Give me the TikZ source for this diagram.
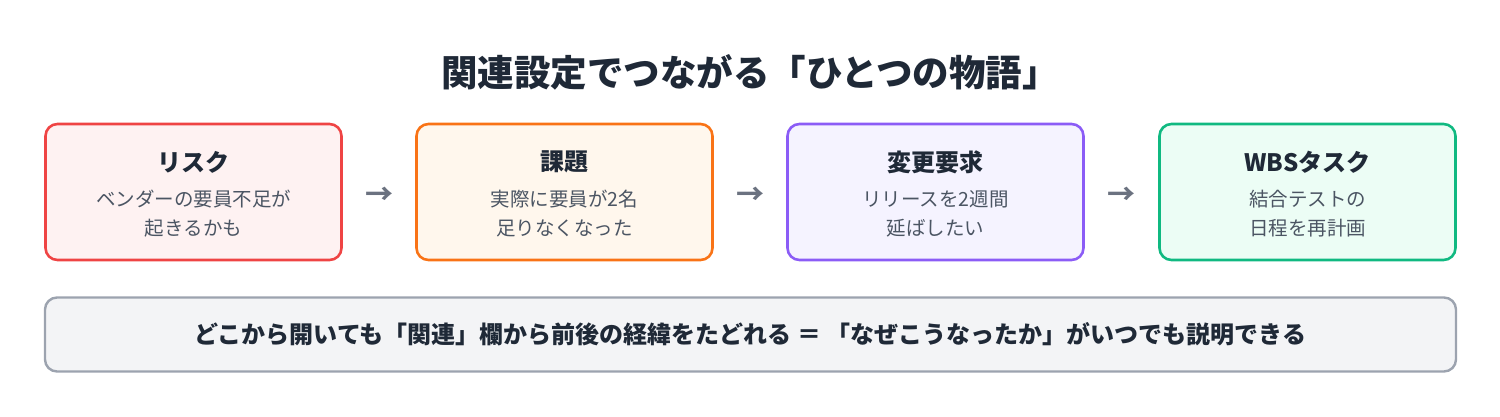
\documentclass[tikz,border=0pt]{standalone}
\usepackage{fontspec}
\setmainfont{Noto Sans CJK JP}
\usetikzlibrary{positioning,calc}
\definecolor{ttl}{HTML}{1F2937}
\definecolor{sub}{HTML}{4B5563}
\definecolor{arr}{HTML}{6B7280}
\definecolor{rB}{HTML}{EF4444}\definecolor{rF}{HTML}{FEF2F2}
\definecolor{oB}{HTML}{F97316}\definecolor{oF}{HTML}{FFF7ED}
\definecolor{pB}{HTML}{8B5CF6}\definecolor{pF}{HTML}{F5F3FF}
\definecolor{gB}{HTML}{10B981}\definecolor{gF}{HTML}{ECFDF5}
\definecolor{nB}{HTML}{9CA3AF}\definecolor{nF}{HTML}{F3F4F6}
\begin{document}
\begin{tikzpicture}[x=1pt,y=-1pt,
  card/.style={draw, line width=2.6pt, rounded corners=12pt, minimum width=296pt, minimum height=136pt, inner sep=0pt},
  cardtitle/.style={font=\fontsize{24}{28}\selectfont\bfseries, text=ttl, anchor=center},
  cardsub/.style={font=\fontsize{19.5}{29}\selectfont, text=sub, align=center, anchor=center},
  flowarrow/.style={font=\fontsize{28}{30}\selectfont\bfseries, text=arr, anchor=center}]
\useasboundingbox (0,0) rectangle (1500,416);
\node[font=\fontsize{36.5}{40}\selectfont\bfseries, text=ttl] (title) at (750,72) {関連設定でつながる「ひとつの物語」};
\node[card, draw=rB, fill=rF] (c1) at (193.5,192) {};
\node[card, draw=oB, fill=oF] (c2) at (564.5,192) {};
\node[card, draw=pB, fill=pF] (c3) at (935.5,192) {};
\node[card, draw=gB, fill=gF] (c4) at (1307.5,192) {};
\node[cardtitle] (t1) at (193.5,162) {リスク};
\node[cardtitle] (t2) at (564.5,162) {課題};
\node[cardtitle] (t3) at (935.5,162) {変更要求};
\node[cardtitle] (t4) at (1307.5,162) {WBSタスク};
\node[cardsub] (s1) at (193.5,213.5) {ベンダーの要員不足が\\起きるかも};
\node[cardsub] (s2) at (564.5,213.5) {実際に要員が2名\\足りなくなった};
\node[cardsub] (s3) at (935.5,213.5) {リリースを2週間\\延ばしたい};
\node[cardsub] (s4) at (1307.5,213.5) {結合テストの\\日程を再計画};
\node[flowarrow] (a1) at ($(c1.east)!0.5!(c2.west)+(0,4)$) {→};
\node[flowarrow] (a2) at ($(c2.east)!0.5!(c3.west)+(0,4)$) {→};
\node[flowarrow] (a3) at ($(c3.east)!0.5!(c4.west)+(0,4)$) {→};
\node[draw=nB, fill=nF, line width=2.4pt, rounded corners=12pt, minimum width=1411pt, minimum height=74pt, inner sep=0pt] (note) at (750.5,334.5) {};
\node[font=\fontsize{24}{28}\selectfont\bfseries, text=ttl] (notetext) at (note.center) {どこから開いても「関連」欄から前後の経緯をたどれる ＝ 「なぜこうなったか」がいつでも説明できる};
\end{tikzpicture}
\end{document}
